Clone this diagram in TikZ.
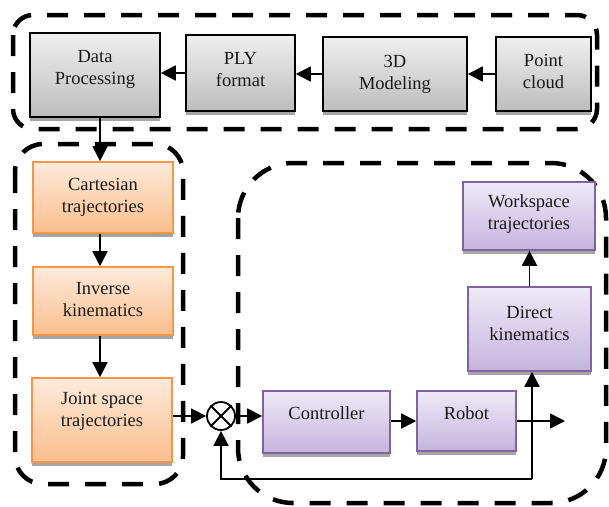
\documentclass[tikz,border=0pt]{standalone}
\usepackage{fontspec}
\setmainfont{Liberation Serif}
\newfontfamily\timesfont{Liberation Serif}
\usetikzlibrary{arrows.meta,shadows,calc}
\definecolor{grayT}{HTML}{EFEFEF}
\definecolor{grayB}{HTML}{BDBDBD}
\definecolor{orT}{HTML}{FDEADB}
\definecolor{orB}{HTML}{FBBE8C}
\definecolor{orD}{HTML}{F79646}
\definecolor{puT}{HTML}{EEEAF7}
\definecolor{puB}{HTML}{C5B4DE}
\definecolor{puD}{HTML}{8064A2}
\begin{document}
\begin{tikzpicture}[x=1pt,y=-1pt,
  box/.style={rectangle,line width=1.6pt,inner sep=0pt,
    drop shadow={shadow xshift=0pt,shadow yshift=-4pt,fill=gray!70,opacity=1}},
  graybox/.style={box,draw=black,top color=grayT,bottom color=grayB},
  orbox/.style={box,draw=orD,top color=orT,bottom color=orB},
  pubox/.style={box,draw=puD,top color=puT,bottom color=puB},
  txt/.style={align=center,font=\timesfont\fontsize{18.5}{22}\selectfont,inner sep=0pt,text=black!90},
  arr/.style={line width=1.8pt,-{Triangle[length=15pt,width=15pt]}},
  grp/.style={line width=4.5pt,dash pattern=on 21pt off 16pt,rounded corners=#1},
]
\useasboundingbox (0,0) rectangle (609,506);

% group outlines
\draw[grp=20pt] (13,15) rectangle (597,129);
\draw[grp=28pt] (15,144) rectangle (183,484);
\draw[grp=55pt] (238,163) rectangle (606,503);

% gray boxes
\node[graybox,minimum width=130pt,minimum height=84pt] (dp) at (95,75) {};
\node[txt] (dpt) at ([yshift=6pt]dp.center) {Data\\Processing};
\node[graybox,minimum width=109pt,minimum height=76pt] (ply) at (240.5,73) {};
\node[txt] (plyt) at ([yshift=3pt]ply.center) {PLY\\format};
\node[graybox,minimum width=144pt,minimum height=74pt] (mod) at (395,74) {};
\node[txt] (modt) at ([yshift=0pt]mod.center) {3D\\Modeling};
\node[graybox,minimum width=95pt,minimum height=74pt] (pc) at (543.5,74) {};
\node[txt] (pct) at ([yshift=3pt]pc.center) {Point\\cloud};

% orange boxes
\node[orbox,minimum width=140pt,minimum height=71pt] (cart) at (103,197.5) {};
\node[txt] (cartt) at (cart.center) {Cartesian\\trajectories};
\node[orbox,minimum width=140pt,minimum height=68pt] (inv) at (103,301) {};
\node[txt] (invt) at ([yshift=1pt]inv.center) {Inverse\\kinematics};
\node[orbox,minimum width=140pt,minimum height=84pt] (joint) at (102,420) {};
\node[txt] (jointt) at ([yshift=9pt]joint.center) {Joint space\\trajectories};

% purple boxes
\node[pubox,minimum width=132pt,minimum height=68pt] (work) at (529,216) {};
\node[txt] (workt) at ([yshift=2pt]work.center) {Workspace\\trajectories};
\node[pubox,minimum width=123pt,minimum height=84pt] (dk) at (529.5,329) {};
\node[txt] (dkt) at ([yshift=6pt]dk.center) {Direct\\kinematics};
\node[pubox,minimum width=127pt,minimum height=62pt] (ctrl) at (326.5,422) {};
\node[txt] (ctrlt) at ([yshift=9pt]ctrl.center) {Controller};
\node[pubox,minimum width=99pt,minimum height=60pt] (robot) at (466.5,421) {};
\node[txt] (robott) at ([yshift=8pt]robot.center) {Robot};

% summing junction
\node[circle,draw,line width=1.8pt,fill=white,minimum size=28pt,inner sep=0pt] (sum) at (221,416) {};
\draw[line width=1.8pt] (sum.north east) -- (sum.south west);
\draw[line width=1.8pt] (sum.north west) -- (sum.south east);

% connectors
\draw[arr] (pc.west) -- (mod.east);
\draw[arr] (mod.west) -- (mod.west -| ply.east);
\draw[arr] (ply.west) -- (ply.west -| dp.east);
\draw[arr] ([xshift=5pt]dp.south) -- ([xshift=5pt]dp.south |- cart.north);
\draw[arr] ([xshift=-3pt]cart.south) -- ([xshift=-3pt]cart.south |- inv.north);
\draw[arr] ([xshift=-3pt]inv.south) -- ([xshift=-3pt]inv.south |- joint.north);
\draw[arr] (joint.east |- sum.west) -- (sum.west);
\draw[arr] (sum.east) -- (sum.east -| ctrl.west);
\draw[arr] (robot.west -| ctrl.east) -- (robot.west);
\coordinate (out) at (565,421);
\draw[arr] (robot.east) -- (out);
\coordinate (fb) at (532,479);
\draw[arr] (fb) -- (fb |- dk.south);
\draw[arr] (fb) -- (fb -| sum.south) -- (sum.south);
\draw[arr] (dk.north) -- (dk.north |- work.south);
\end{tikzpicture}
\end{document}
